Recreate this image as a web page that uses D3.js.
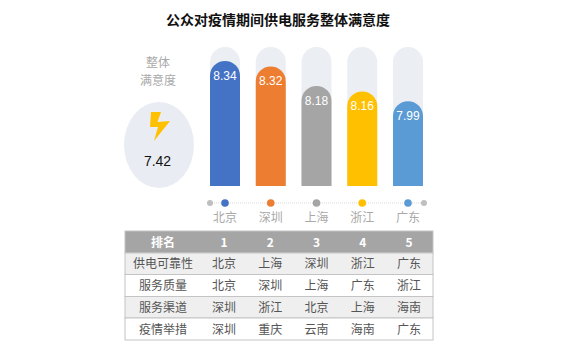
<!DOCTYPE html>
<html>
<head>
<meta charset="utf-8">
<script src="https://cdn.jsdelivr.net/npm/d3@7"></script>
<style>
    html, body { margin: 0; padding: 0; background: #fff; }
    svg { font-family: "Noto Sans CJK SC", sans-serif; }
</style>
</head>
<body>
<div id="chart"></div>
<script>
// Bars
const cities = ["北京", "深圳", "上海", "浙江", "广东"];
const scores = [8.34, 8.32, 8.18, 8.16, 7.99];
// share of the grey track that each bar fills, the picture does not use a zero based axis
const fillShare = [0.90, 0.86, 0.72, 0.68, 0.61];
const barColors = ["#4472c4", "#ed7d31", "#a5a5a5", "#ffc000", "#5b9bd5"];
const overall = "7.42";

// Table
const tableHeader = ["排名", "1", "2", "3", "4", "5"];
const tableRows = [
    ["供电可靠性", "北京", "上海", "深圳", "浙江", "广东"],
    ["服务质量", "北京", "深圳", "上海", "广东", "浙江"],
    ["服务渠道", "深圳", "浙江", "北京", "上海", "海南"],
    ["疫情举措", "深圳", "重庆", "云南", "海南", "广东"]
];

const width = 580, height = 352;
const latin = "Liberation Sans, sans-serif";
const svg = d3.select("#chart").append("svg")
    .attr("width", width)
    .attr("height", height)
    .style("display", "block");

// Title
svg.append("text")
    .attr("x", 278)
    .attr("y", 25)
    .attr("text-anchor", "middle")
    .attr("font-size", 14)
    .attr("font-weight", 700)
    .attr("fill", "#111")
    .text("公众对疫情期间供电服务整体满意度");

// Left side badge
const muted = "#a9a9a9";
svg.selectAll(".badge-label")
    .data(["整体", "满意度"])
    .enter().append("text")
    .attr("class", "badge-label")
    .attr("x", 158)
    .attr("y", (d, i) => 67 + i * 18)
    .attr("text-anchor", "middle")
    .attr("font-size", 12)
    .attr("fill", muted)
    .text(d => d);

svg.append("ellipse")
    .attr("cx", 159)
    .attr("cy", 145)
    .attr("rx", 35)
    .attr("ry", 43)
    .attr("fill", "#e9edf3");

// Lightning icon
svg.append("path")
    .attr("d", "M151 112 L161 112 L157.5 122 L170 121 L154 141 L158 127 L150 127 Z")
    .attr("fill", "#ffc000");

svg.append("text")
    .attr("x", 157.5)
    .attr("y", 166)
    .attr("text-anchor", "middle")
    .style("font-family", latin)
    .attr("font-size", 14)
    .attr("fill", "#111")
    .text(overall);

// Scales
const x = d3.scalePoint().domain(cities).range([225, 408]);
const y = d3.scaleLinear().domain([0, 1]).range([186, 47]);
const barWidth = 30;

function barPath(top) {
    // rounded top, square bottom
    const r = barWidth / 2;
    return `M${-r},${y(0)} V${top + r} A${r},${r} 0 0 1 ${r},${top + r} V${y(0)} Z`;
}

// Timeline below the bars, drawn first so the dots sit on top of it
const lineY = 203;
svg.append("line")
    .attr("x1", 210)
    .attr("x2", 424)
    .attr("y1", lineY)
    .attr("y2", lineY)
    .attr("stroke", "#d9d9d9")
    .attr("stroke-dasharray", "1 1");

svg.selectAll(".end-dot")
    .data([210, 424])
    .enter().append("circle")
    .attr("class", "end-dot")
    .attr("cx", d => d)
    .attr("cy", lineY)
    .attr("r", 3)
    .attr("fill", "#bfbfbf");

const bars = svg.append("g").selectAll("g")
    .data(cities)
    .enter().append("g")
    .attr("transform", d => `translate(${x(d)},0)`);

bars.append("path")
    .attr("d", barPath(y(1)))
    .attr("fill", "#ebeef3");

bars.append("path")
    .attr("d", (d, i) => barPath(y(fillShare[i])))
    .attr("fill", (d, i) => barColors[i]);

bars.append("text")
    .attr("y", (d, i) => y(fillShare[i]) + 19)
    .attr("text-anchor", "middle")
    .style("font-family", latin)
    .attr("font-size", 12)
    .attr("fill", "#fff")
    .text((d, i) => scores[i].toFixed(2));

bars.append("circle")
    .attr("cy", lineY)
    .attr("r", 3.8)
    .attr("fill", (d, i) => barColors[i]);

bars.append("text")
    .attr("y", 222)
    .attr("text-anchor", "middle")
    .attr("font-size", 12)
    .attr("fill", muted)
    .text(d => d);

// Table
const tableLeft = 125, tableRight = 433;
const col = d3.scalePoint().domain(d3.range(1, 6)).range([224, 409]);
const colX = i => i === 0 ? 163 : col(i);
const rowEdges = [231, 253, 274.5, 296.5, 318, 340];
const rowFills = ["#a5a5a5", "#efefef", "#ffffff", "#efefef", "#ffffff"];

const rows = svg.append("g").selectAll("g")
    .data([tableHeader].concat(tableRows))
    .enter().append("g");

rows.append("rect")
    .attr("x", tableLeft)
    .attr("width", tableRight - tableLeft)
    .attr("y", (d, i) => rowEdges[i])
    .attr("height", (d, i) => rowEdges[i + 1] - rowEdges[i])
    .attr("fill", (d, i) => rowFills[i])
    .attr("stroke", "#c4c4c4")
    .attr("stroke-width", 1);

rows.each(function (row, r) {
    d3.select(this).selectAll("text")
        .data(row)
        .enter().append("text")
        .attr("x", (d, i) => colX(i))
        .attr("y", (rowEdges[r] + rowEdges[r + 1]) / 2 + 4.5)
        .attr("text-anchor", "middle")
        .attr("font-size", 12)
        .attr("font-weight", r === 0 ? 700 : 400)
        .attr("fill", r === 0 ? "#fff" : "#555")
        .text(d => d);
});
</script>
</body>
</html>
